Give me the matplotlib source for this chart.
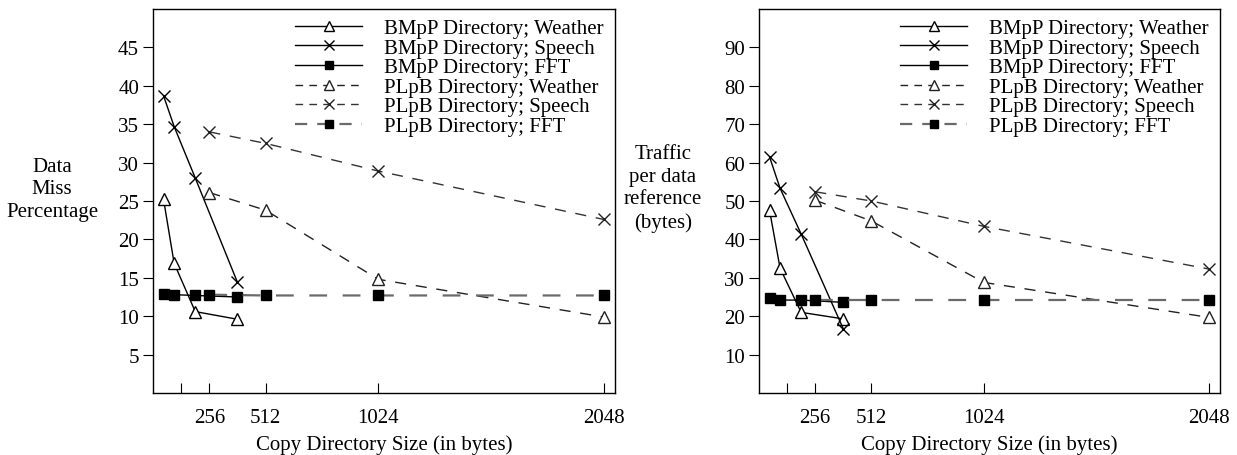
import matplotlib
matplotlib.use("Agg")
import matplotlib.pyplot as plt
from matplotlib.lines import Line2D

plt.rcParams["font.family"] = ["Liberation Serif", "DejaVu Serif"]

# Copy directory sizes (bytes)
bmpp_sizes = [48, 96, 192, 384]
plpb_sizes = [256, 512, 1024, 2048]

# Data miss percentage
miss_bmpp_weather = [25.2, 16.9, 10.6, 9.6]
miss_bmpp_speech = [38.7, 34.7, 28.0, 14.4]
miss_bmpp_fft = [12.9, 12.8, 12.7, 12.5]
miss_plpb_weather = [26.1, 23.8, 14.8, 9.9]
miss_plpb_speech = [34.0, 32.5, 28.9, 22.6]
miss_plpb_fft = [12.8, 12.7, 12.7, 12.7]

# Traffic per data reference (bytes)
traf_bmpp_weather = [47.6, 32.5, 21.0, 19.3]
traf_bmpp_speech = [61.5, 53.3, 41.4, 16.7]
traf_bmpp_fft = [24.7, 24.2, 24.2, 23.6]
traf_plpb_weather = [50.2, 44.8, 28.8, 19.7]
traf_plpb_speech = [52.4, 50.0, 43.4, 32.3]
traf_plpb_fft = [24.2, 24.2, 24.2, 24.2]

labels = ["BMpP Directory; Weather", "BMpP Directory; Speech", "BMpP Directory; FFT",
          "PLpB Directory; Weather", "PLpB Directory; Speech", "PLpB Directory; FFT"]

x_ticks = [128, 256, 512, 1024, 2048]
x_ticklabels = ["", "256", "512", "1024", "2048"]

FS = 15


def draw(ax, series, ymax, yticks):
    dash = (0, (8, 7))
    styles = [
        dict(color="black", ls="-", marker="^", mfc="white", ms=8.5),
        dict(color="black", ls="-", marker="x", ms=9),
        dict(color="black", ls="-", marker="s", ms=7.5),
        dict(color="#222222", ls=dash, marker="^", mfc="white", ms=8.5),
        dict(color="#333333", ls=dash, marker="x", ms=9, mec="#222222"),
        dict(color="#6a6a6a", ls=dash, lw=1.6, marker="s", ms=7.5,
             mfc="black", mec="black"),
    ]
    handles = []
    for i, (xs, ys) in enumerate(series):
        st = dict(lw=1.0, mew=1.0)
        st.update(styles[i])
        ax.plot(xs, ys, **st)
        hst = dict(st)
        if i >= 3:
            hst["ls"] = (0, (5.5, 4.5))
        handles.append(Line2D([], [], **hst))
    ax.set_xlim(0, 2100)
    ax.set_ylim(0, ymax)
    ax.set_xticks(x_ticks)
    ax.set_xticklabels(x_ticklabels)
    ax.set_yticks(yticks)
    ax.tick_params(axis="x", direction="in", length=7, pad=11, labelsize=FS)
    ax.tick_params(axis="y", direction="out", length=7, pad=3, labelsize=FS)
    ax.set_xlabel("Copy Directory Size (in bytes)", fontsize=FS, labelpad=5)
    for s in ax.spines.values():
        s.set_linewidth(1.0)
    leg = ax.legend(handles, labels, loc="upper right", frameon=False,
                    fontsize=FS, handlelength=3.2, handletextpad=1.05,
                    labelspacing=0.0, borderaxespad=0.0, markerscale=0.85,
                    bbox_to_anchor=(0.993, 0.997))
    return leg


fig = plt.figure(figsize=(12.37, 4.56), dpi=100)
ax1 = fig.add_axes([153 / 1237, 62 / 456, 462 / 1237, 384 / 456])
ax2 = fig.add_axes([759 / 1237, 62 / 456, 461 / 1237, 384 / 456])

draw(ax1, [(bmpp_sizes, miss_bmpp_weather), (bmpp_sizes, miss_bmpp_speech),
           (bmpp_sizes, miss_bmpp_fft), (plpb_sizes, miss_plpb_weather),
           (plpb_sizes, miss_plpb_speech), (plpb_sizes, miss_plpb_fft)],
     50, range(5, 50, 5))
draw(ax2, [(bmpp_sizes, traf_bmpp_weather), (bmpp_sizes, traf_bmpp_speech),
           (bmpp_sizes, traf_bmpp_fft), (plpb_sizes, traf_plpb_weather),
           (plpb_sizes, traf_plpb_speech), (plpb_sizes, traf_plpb_fft)],
     100, range(10, 100, 10))

fig.text(52 / 1237, 1 - 190 / 456, "Data\nMiss\nPercentage", ha="center",
         va="center", fontsize=FS, linespacing=1.25)
fig.text(663 / 1237, 1 - 189 / 456, "Traffic\nper data\nreference\n(bytes)",
         ha="center", va="center", fontsize=FS, linespacing=1.25)

fig.savefig("out.png", dpi=100)
